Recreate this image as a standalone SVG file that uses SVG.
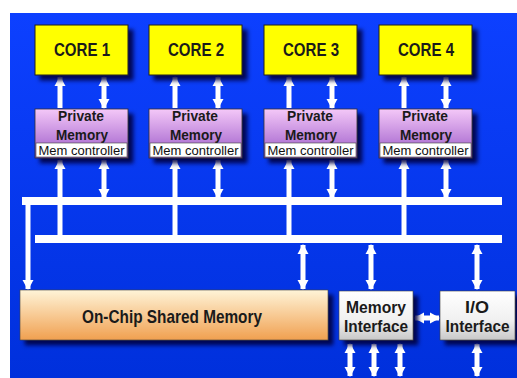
<svg xmlns="http://www.w3.org/2000/svg" width="517" height="378" viewBox="0 0 517 378">
<defs>
  <linearGradient id="bg" x1="0" y1="0" x2="0" y2="1">
    <stop offset="0" stop-color="#0d40ff"/>
    <stop offset="1" stop-color="#0030dc"/>
  </linearGradient>
  <linearGradient id="pm" x1="0" y1="0" x2="0" y2="1">
    <stop offset="0" stop-color="#f4c8f8"/>
    <stop offset="1" stop-color="#9a58c8"/>
  </linearGradient>
  <linearGradient id="sm" x1="0" y1="0" x2="0" y2="1">
    <stop offset="0" stop-color="#fff4d8"/>
    <stop offset="1" stop-color="#f0a050"/>
  </linearGradient>
  <linearGradient id="wg" x1="0" y1="0" x2="0" y2="1">
    <stop offset="0" stop-color="#ffffff"/>
    <stop offset="0.6" stop-color="#f0f0f0"/>
    <stop offset="1" stop-color="#c8c8c8"/>
  </linearGradient>
  <filter id="sh" x="-10%" y="-10%" width="130%" height="140%">
    <feDropShadow dx="5" dy="5" stdDeviation="2" flood-color="#000040" flood-opacity="0.9"/>
  </filter>
  <marker id="ah" markerUnits="userSpaceOnUse" markerWidth="12" markerHeight="12" refX="9" refY="6" orient="auto-start-reverse">
    <path d="M0,0.5 L10,6 L0,11.5 Z" fill="#ffffff"/>
  </marker>
  <style>
    .core{fill:#ffff00;stroke:#202020;stroke-width:1}
    .lbl{font-family:"Liberation Sans",Arial,sans-serif;font-weight:bold;fill:#1a1a1a;text-anchor:middle}
    .core-t{font-size:19px}
    .pm-t{font-size:15px}
    .mc-t{font-family:"Liberation Sans",Arial,sans-serif;font-size:12px;fill:#101010;text-anchor:middle}
    .big-t{font-size:19px}
    .io-t{font-size:17px}
    .arr{stroke:#ffffff;stroke-width:5;fill:none}
    .bus{fill:#ffffff}
  </style>
</defs>
<rect x="0" y="0" width="517" height="378" fill="#ffffff"/>
<rect x="10" y="13" width="507" height="365" fill="url(#bg)"/>

<g id="connectors">
  <rect class="bus" x="22" y="197" width="480" height="8"/>
  <rect class="bus" x="35" y="235" width="467" height="8"/>
  <!-- core to private memory -->
  <line class="arr" x1="60" y1="108" x2="60" y2="77" marker-end="url(#ah)"/>
  <line class="arr" x1="104" y1="108" x2="104" y2="77" marker-start="url(#ah)" marker-end="url(#ah)"/>
  <line class="arr" x1="175" y1="108" x2="175" y2="77" marker-end="url(#ah)"/>
  <line class="arr" x1="218" y1="108" x2="218" y2="77" marker-start="url(#ah)" marker-end="url(#ah)"/>
  <line class="arr" x1="289" y1="108" x2="289" y2="77" marker-end="url(#ah)"/>
  <line class="arr" x1="332" y1="108" x2="332" y2="77" marker-start="url(#ah)" marker-end="url(#ah)"/>
  <line class="arr" x1="404" y1="108" x2="404" y2="77" marker-end="url(#ah)"/>
  <line class="arr" x1="446" y1="108" x2="446" y2="77" marker-start="url(#ah)" marker-end="url(#ah)"/>
  <!-- mem controller to buses -->
  <line class="arr" x1="60" y1="237" x2="60" y2="160" marker-end="url(#ah)"/>
  <line class="arr" x1="104" y1="198" x2="104" y2="160" marker-start="url(#ah)" marker-end="url(#ah)"/>
  <line class="arr" x1="175" y1="237" x2="175" y2="160" marker-end="url(#ah)"/>
  <line class="arr" x1="218" y1="198" x2="218" y2="160" marker-start="url(#ah)" marker-end="url(#ah)"/>
  <line class="arr" x1="289" y1="237" x2="289" y2="160" marker-end="url(#ah)"/>
  <line class="arr" x1="332" y1="198" x2="332" y2="160" marker-start="url(#ah)" marker-end="url(#ah)"/>
  <line class="arr" x1="404" y1="237" x2="404" y2="160" marker-end="url(#ah)"/>
  <line class="arr" x1="446" y1="198" x2="446" y2="160" marker-start="url(#ah)" marker-end="url(#ah)"/>
  <!-- bus1 to shared memory -->
  <line class="arr" x1="28" y1="203" x2="28" y2="289" marker-end="url(#ah)"/>
  <!-- bus2 to lower boxes -->
  <line class="arr" x1="303" y1="245" x2="303" y2="289" marker-start="url(#ah)" marker-end="url(#ah)"/>
  <line class="arr" x1="371" y1="245" x2="371" y2="289" marker-start="url(#ah)" marker-end="url(#ah)"/>
  <line class="arr" x1="477" y1="245" x2="477" y2="289" marker-start="url(#ah)" marker-end="url(#ah)"/>
  <!-- mem interface to io -->
  <line class="arr" x1="415" y1="318" x2="439" y2="318" marker-start="url(#ah)" marker-end="url(#ah)"/>
  <!-- bottom -->
  <line class="arr" x1="350" y1="344" x2="350" y2="376" marker-start="url(#ah)" marker-end="url(#ah)"/>
  <line class="arr" x1="374" y1="344" x2="374" y2="376" marker-start="url(#ah)" marker-end="url(#ah)"/>
  <line class="arr" x1="400" y1="344" x2="400" y2="376" marker-start="url(#ah)" marker-end="url(#ah)"/>
  <line class="arr" x1="477" y1="344" x2="477" y2="376" marker-start="url(#ah)" marker-end="url(#ah)"/>
</g>

<g id="core1">
  <rect class="core" x="35" y="25" width="93" height="50" filter="url(#sh)"/>
  <text class="lbl core-t" x="82" y="56" textLength="56" lengthAdjust="spacingAndGlyphs">CORE 1</text>
</g>
<g id="core2">
  <rect class="core" x="149" y="25" width="93" height="50" filter="url(#sh)"/>
  <text class="lbl core-t" x="196" y="56" textLength="56" lengthAdjust="spacingAndGlyphs">CORE 2</text>
</g>
<g id="core3">
  <rect class="core" x="264" y="25" width="93" height="50" filter="url(#sh)"/>
  <text class="lbl core-t" x="311" y="56" textLength="56" lengthAdjust="spacingAndGlyphs">CORE 3</text>
</g>
<g id="core4">
  <rect class="core" x="379" y="25" width="93" height="50" filter="url(#sh)"/>
  <text class="lbl core-t" x="426" y="56" textLength="56" lengthAdjust="spacingAndGlyphs">CORE 4</text>
</g>

<g id="pm1">
  <rect x="35" y="109" width="93" height="49" fill="url(#pm)" stroke="#303030" stroke-width="0.8" filter="url(#sh)"/>
  <text class="lbl pm-t" x="81" y="121" textLength="46" lengthAdjust="spacingAndGlyphs">Private</text>
  <text class="lbl pm-t" x="82" y="140" textLength="52" lengthAdjust="spacingAndGlyphs">Memory</text>
  <rect x="36" y="143" width="91" height="14" fill="#ffffff" stroke="#404040" stroke-width="0.6"/>
  <text class="mc-t" x="81.5" y="154.5" textLength="86" lengthAdjust="spacingAndGlyphs">Mem controller</text>
</g>
<g id="pm2">
  <rect x="149" y="109" width="93" height="49" fill="url(#pm)" stroke="#303030" stroke-width="0.8" filter="url(#sh)"/>
  <text class="lbl pm-t" x="195" y="121" textLength="46" lengthAdjust="spacingAndGlyphs">Private</text>
  <text class="lbl pm-t" x="196" y="140" textLength="52" lengthAdjust="spacingAndGlyphs">Memory</text>
  <rect x="150" y="143" width="91" height="14" fill="#ffffff" stroke="#404040" stroke-width="0.6"/>
  <text class="mc-t" x="195.5" y="154.5" textLength="86" lengthAdjust="spacingAndGlyphs">Mem controller</text>
</g>
<g id="pm3">
  <rect x="264" y="109" width="93" height="49" fill="url(#pm)" stroke="#303030" stroke-width="0.8" filter="url(#sh)"/>
  <text class="lbl pm-t" x="310" y="121" textLength="46" lengthAdjust="spacingAndGlyphs">Private</text>
  <text class="lbl pm-t" x="311" y="140" textLength="52" lengthAdjust="spacingAndGlyphs">Memory</text>
  <rect x="265" y="143" width="91" height="14" fill="#ffffff" stroke="#404040" stroke-width="0.6"/>
  <text class="mc-t" x="310.5" y="154.5" textLength="86" lengthAdjust="spacingAndGlyphs">Mem controller</text>
</g>
<g id="pm4">
  <rect x="379" y="109" width="93" height="49" fill="url(#pm)" stroke="#303030" stroke-width="0.8" filter="url(#sh)"/>
  <text class="lbl pm-t" x="425" y="121" textLength="46" lengthAdjust="spacingAndGlyphs">Private</text>
  <text class="lbl pm-t" x="426" y="140" textLength="52" lengthAdjust="spacingAndGlyphs">Memory</text>
  <rect x="380" y="143" width="91" height="14" fill="#ffffff" stroke="#404040" stroke-width="0.6"/>
  <text class="mc-t" x="425.5" y="154.5" textLength="86" lengthAdjust="spacingAndGlyphs">Mem controller</text>
</g>

<g id="shared-memory">
  <rect x="20" y="290" width="308" height="50" fill="url(#sm)" stroke="#404040" stroke-width="0.6" filter="url(#sh)"/>
  <text class="lbl big-t" x="172" y="323" textLength="180" lengthAdjust="spacingAndGlyphs">On-Chip Shared Memory</text>
</g>
<g id="memory-interface">
  <rect x="339" y="291" width="74" height="49" fill="url(#wg)" stroke="#404040" stroke-width="0.6" filter="url(#sh)"/>
  <text class="lbl io-t" x="376" y="313" textLength="60" lengthAdjust="spacingAndGlyphs">Memory</text>
  <text class="lbl io-t" x="376" y="332" textLength="64" lengthAdjust="spacingAndGlyphs">Interface</text>
</g>
<g id="io-interface">
  <rect x="440" y="291" width="75" height="49" fill="url(#wg)" stroke="#404040" stroke-width="0.6" filter="url(#sh)"/>
  <text class="lbl io-t" x="477" y="313" textLength="24" lengthAdjust="spacingAndGlyphs">I/O</text>
  <text class="lbl io-t" x="477.5" y="332" textLength="64" lengthAdjust="spacingAndGlyphs">Interface</text>
</g>
</svg>
